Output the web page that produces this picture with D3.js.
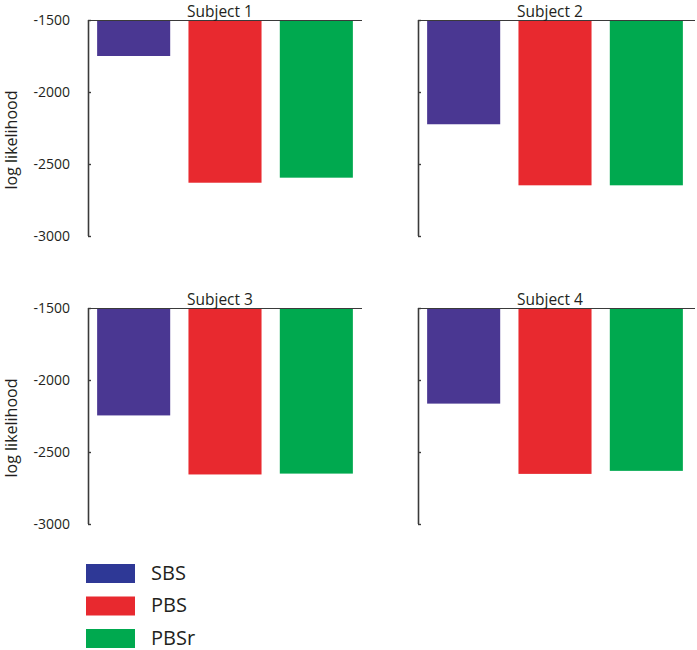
<!DOCTYPE html>
<html>
<head>
<meta charset="utf-8">
<script src="https://cdn.jsdelivr.net/npm/d3@7"></script>
<style>
  body { margin: 0; background: #fff; }
  text { font-family: "Open Sans", "DejaVu Sans", sans-serif; fill: #231f20; }
</style>
</head>
<body>
<svg id="chart" width="697" height="650"></svg>
<script>
// values
var subjects = ["Subject 1", "Subject 2", "Subject 3", "Subject 4"];
var models = ["SBS", "PBS", "PBSr"];
var sbs  = [-1750, -2224, -2246, -2164];
var pbs  = [-2630, -2648, -2656, -2652];
var pbsr = [-2595, -2648, -2650, -2631];
var yTicks = [-1500, -2000, -2500, -3000];

var barColors = ["#4a3792", "#e8292f", "#00a94f"];
var legendColors = ["#2e3896", "#e8292f", "#00a94f"];

var svg = d3.select("#chart");

var panelW = 274, panelH = 216;
var panels = [
  {x: 88,  y: 20,  labels: true},
  {x: 418, y: 20,  labels: false},
  {x: 88,  y: 308, labels: true},
  {x: 418, y: 308, labels: false}
];

var x = d3.scaleBand().domain(models).range([0, panelW])
          .paddingInner(0.2).paddingOuter(0.1);
var y = d3.scaleLinear().domain([-1500, -3000]).range([0, panelH]);

panels.forEach(function(p, i){
  var vals = [sbs[i], pbs[i], pbsr[i]];
  var g = svg.append("g").attr("transform", "translate(" + p.x + "," + p.y + ")");

  g.selectAll("rect")
    .data(models)
    .enter()
    .append("rect")
    .attr("x", function(d){ return x(d); })
    .attr("y", y(-1500))
    .attr("width", x.bandwidth())
    .attr("height", function(d, j){ return y(vals[j]) - y(-1500); })
    .attr("fill", function(d, j){ return barColors[j]; });

  // top baseline
  g.append("line")
    .attr("x1", 0).attr("x2", panelW + (i % 2 ? 3 : 0))
    .attr("y1", 0.5).attr("y2", 0.5)
    .attr("stroke", "#3a3a3a").attr("stroke-width", 1.2);

  var axis = d3.axisLeft(y).tickValues(yTicks).tickSize(-3).tickPadding(18)
               .tickFormat(function(d){ return String(d); });
  if (!p.labels) axis.tickFormat("");
  var ax = g.append("g").call(axis);
  ax.select(".domain").remove();
  ax.append("line")
    .attr("x1", 0.5).attr("x2", 0.5)
    .attr("y1", 0).attr("y2", panelH)
    .attr("stroke", "#3a3a3a").attr("stroke-width", 1.6);
  ax.selectAll(".tick line").attr("stroke", "#3a3a3a").attr("stroke-width", 1.4);
  ax.selectAll(".tick text")
    .attr("font-size", 14)
    .attr("fill", "#231f20")
    .attr("x", -18);

  g.append("text")
    .attr("x", panelW / 2 - 5)
    .attr("y", -3)
    .attr("text-anchor", "middle")
    .attr("font-size", 15.5)
    .text(subjects[i]);

  if (p.labels) {
    g.append("text")
      .attr("transform", "translate(" + (-71) + "," + (panelH / 2 + 12) + ") rotate(-90)")
      .attr("text-anchor", "middle")
      .attr("font-size", 16)
      .text("log likelihood");
  }
});

// legend
var legend = svg.append("g").attr("transform", "translate(86,564)");
var lg = legend.selectAll("g")
  .data(models)
  .enter()
  .append("g")
  .attr("transform", function(d, i){ return "translate(0," + (i * 32.5) + ")"; });
lg.append("rect")
  .attr("width", 49).attr("height", 19)
  .attr("fill", function(d, i){ return legendColors[i]; });
lg.append("text")
  .attr("x", 65).attr("y", 15.5)
  .attr("font-size", 20)
  .text(function(d){ return d; });
</script>
</body>
</html>
